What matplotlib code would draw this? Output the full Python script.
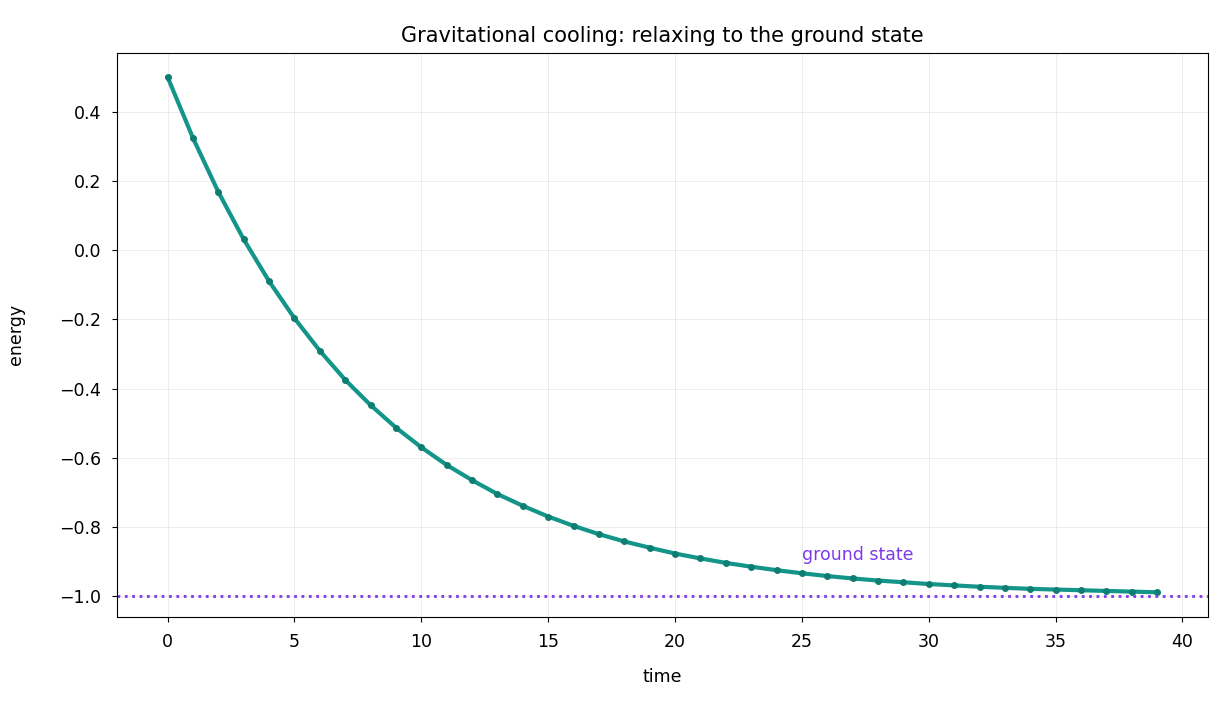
import matplotlib.pyplot as plt

time = list(range(40))
energy = [0.500, 0.324, 0.168, 0.031, -0.090, -0.197, -0.291, -0.375, -0.448, -0.513,
          -0.570, -0.621, -0.665, -0.705, -0.739, -0.770, -0.797, -0.821, -0.842, -0.860,
          -0.877, -0.891, -0.904, -0.915, -0.925, -0.934, -0.942, -0.949, -0.955, -0.960,
          -0.965, -0.969, -0.973, -0.976, -0.979, -0.981, -0.983, -0.985, -0.987, -0.989]
ground = -1.0

fig, ax = plt.subplots(figsize=(12.3, 7.05), dpi=100)
ax.plot(time, energy, color="#14958a", lw=3, marker="o", ms=4,
        markerfacecolor="#0e7d72", markeredgecolor="#0e7d72")
ax.axhline(ground, color="#7c3aed", ls=":", lw=2)
ax.text(25, ground + 0.105, "ground state", color="#7c3aed", fontsize=12.5)
ax.set_title("Gravitational cooling: relaxing to the ground state", fontsize=15, pad=8)
ax.set_xlabel("time", fontsize=12.5, labelpad=12)
ax.set_ylabel("energy", fontsize=12.5, labelpad=24)
ax.tick_params(labelsize=12.5, pad=8)
ax.grid(alpha=0.25, lw=0.6)
ax.set_xlim(-2, 41)
ax.set_ylim(-1.06, 0.57)
fig.subplots_adjust(left=0.095, right=0.982, top=0.925, bottom=0.125)
fig.savefig("out.png")
